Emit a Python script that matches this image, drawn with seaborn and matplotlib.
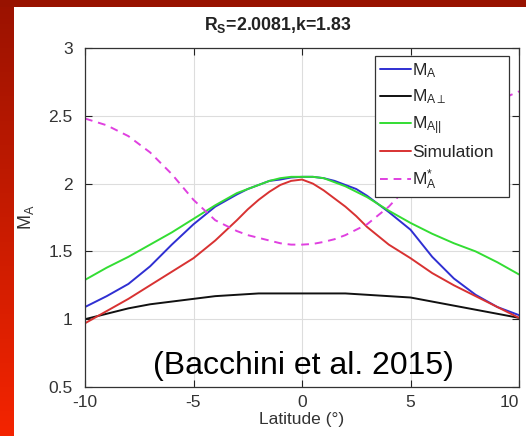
import numpy as np
import pandas as pd
import matplotlib
matplotlib.use("Agg")
import matplotlib.pyplot as plt
from matplotlib.colors import LinearSegmentedColormap
import seaborn as sns

# ---- data ----
latitude = [-10, -9, -8, -7, -6, -5, -4, -3, -2.5, -2, -1.5, -1, -0.5, 0,
            0.5, 1, 1.5, 2, 2.5, 3, 4, 5, 6, 7, 8, 9, 10]
m_a = [1.09, 1.17, 1.26, 1.39, 1.55, 1.70, 1.83, 1.92, 1.96, 1.99, 2.02, 2.03, 2.045, 2.05,
       2.05, 2.04, 2.02, 1.99, 1.96, 1.91, 1.79, 1.66, 1.46, 1.30, 1.18, 1.09, 1.03]
m_a_perp = [1.00, 1.04, 1.08, 1.11, 1.13, 1.15, 1.17, 1.18, 1.185, 1.19, 1.19, 1.19, 1.19, 1.19,
            1.19, 1.19, 1.19, 1.19, 1.185, 1.18, 1.17, 1.16, 1.13, 1.10, 1.07, 1.04, 1.01]
m_a_par = [1.29, 1.38, 1.46, 1.55, 1.64, 1.74, 1.84, 1.93, 1.96, 1.99, 2.02, 2.04, 2.05, 2.05,
           2.05, 2.04, 2.01, 1.98, 1.94, 1.90, 1.80, 1.71, 1.63, 1.56, 1.50, 1.42, 1.33]
simulation = [0.97, 1.06, 1.15, 1.25, 1.35, 1.45, 1.58, 1.73, 1.81, 1.88, 1.94, 1.99, 2.02, 2.03,
              2.00, 1.95, 1.89, 1.83, 1.76, 1.68, 1.55, 1.45, 1.34, 1.25, 1.17, 1.09, 1.01]
m_a_star = [2.48, 2.43, 2.35, 2.23, 2.07, 1.88, 1.73, 1.65, 1.62, 1.60, 1.58, 1.56, 1.55, 1.55,
            1.555, 1.57, 1.59, 1.62, 1.66, 1.70, 1.83, 2.00, 2.18, 2.35, 2.50, 2.61, 2.68]

series_labels = [r"$\mathrm{M}_{\mathrm{A}}$",
                 r"$\mathrm{M}_{\mathrm{A}\perp}$",
                 r"$\mathrm{M}_{\mathrm{A||}}$",
                 "Simulation",
                 r"$\mathrm{M}^{*}_{\mathrm{A}}$"]
series_values = [m_a, m_a_perp, m_a_par, simulation, m_a_star]
x_ticks = [-10, -5, 0, 5, 10]
y_ticks = [0.5, 1, 1.5, 2, 2.5, 3]
y_tick_labels = ["0.5", "1", "1.5", "2", "2.5", "3"]
title_text = r"$\mathbf{R_S}$=2.0081,k=1.83"
xlabel_text = "Latitude (°)"
ylabel_text = r"$\mathrm{M}_{\mathrm{A}}$"
note_text = "(Bacchini et al. 2015)"

colors = ["#2f2fd2", "#111111", "#33dd33", "#d83232", "#e040e0"]
dashes = [(), (), (), (), (4, 3)]

# ---- style ----
sns.set_style("ticks")
plt.rcParams["font.family"] = ["Liberation Sans", "DejaVu Sans"]
plt.rcParams["mathtext.fontset"] = "custom"
plt.rcParams["mathtext.rm"] = "Liberation Sans"
plt.rcParams["mathtext.it"] = "Liberation Sans:italic"
plt.rcParams["mathtext.bf"] = "Liberation Sans:bold"

W, H = 526, 436
fig = plt.figure(figsize=(W / 100, H / 100), dpi=100)
fig.patch.set_facecolor("white")

# red slide decorations
bg = fig.add_axes([0, 0, 14 / W, 1])
grad = np.linspace(0, 1, 256).reshape(-1, 1)
cmap = LinearSegmentedColormap.from_list("r", ["#9a1200", "#f42400"])
bg.imshow(grad, aspect="auto", cmap=cmap, extent=[0, 1, 0, 1], origin="upper")
bg.set_axis_off()
top = fig.add_axes([0, 1 - 7 / H, 1, 7 / H])
top.set_facecolor("#981200")
top.set_xticks([]); top.set_yticks([])
for s in top.spines.values():
    s.set_visible(False)

ax = fig.add_axes([85 / W, (H - 387) / H, (519 - 85) / W, (387 - 48) / H])

df = pd.DataFrame({
    "lat": latitude * len(series_labels),
    "val": sum(series_values, []),
    "series": sum([[lab] * len(latitude) for lab in series_labels], []),
})
sns.lineplot(data=df, x="lat", y="val", hue="series", style="series",
             hue_order=series_labels, style_order=series_labels,
             palette=colors, dashes=dashes, linewidth=1.4, ax=ax, legend=True)

ax.set_xlim(-10, 10)
ax.set_ylim(0.5, 3)
ax.set_xticks(x_ticks)
ax.set_yticks(y_ticks)
ax.set_xticklabels([str(t) for t in x_ticks])
ax.set_yticklabels(y_tick_labels)
ax.grid(True, color="#dddddd", linewidth=0.8)
ax.set_axisbelow(True)
ax.tick_params(direction="in", top=True, right=True, length=5, width=0.8,
               labelsize=12.5, colors="#222222", labelcolor="#333333")
ax.tick_params(axis="x", pad=6)
ax.tick_params(axis="y", pad=9)
ax.get_xticklabels()[-1].set_horizontalalignment("right")
ax.get_xticklabels()[-1].set_x(10)
for s in ax.spines.values():
    s.set_visible(True)
    s.set_color("#333333")
    s.set_linewidth(0.9)
ax.set_xlabel(xlabel_text, fontsize=12.5, color="#333333", labelpad=1)
ax.set_ylabel(ylabel_text, fontsize=13, color="#333333", labelpad=9)

leg = ax.legend(loc="upper left",
                bbox_to_anchor=(375 / W, (H - 194) / H, 134 / W, 138 / H),
                mode="expand",
                bbox_transform=fig.transFigure, fontsize=12.5,
                frameon=True, fancybox=False, edgecolor="#333333",
                framealpha=1, handlelength=1.75, handletextpad=0.1,
                labelspacing=0.45, borderpad=0.3, borderaxespad=0)
leg.get_frame().set_linewidth(0.9)

fig.text(278 / W, 1 - 25 / H, title_text, ha="center", va="center",
         fontsize=12.8, fontweight="bold", color="#222222")
fig.text(303 / W, 1 - 366 / H, note_text, ha="center", va="center",
         fontsize=23, color="black")

fig.savefig("out.png", dpi=100, facecolor="white")
